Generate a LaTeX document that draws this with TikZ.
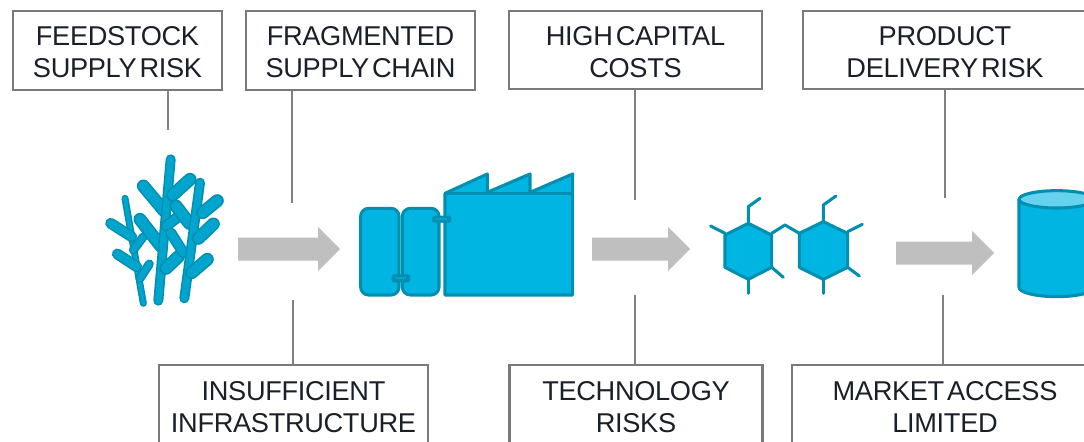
\documentclass[tikz,border=0pt]{standalone}
\usepackage{fontspec}
\setmainfont[WordSpace=0.4,LetterSpace=-1.2]{Liberation Sans}
\definecolor{cy}{HTML}{00B5E2}
\definecolor{cydark}{HTML}{008FB0}
\definecolor{cymid}{HTML}{00A4CC}
\definecolor{cylight}{HTML}{66D3EE}
\definecolor{arrowgray}{HTML}{BFBFBF}
\definecolor{boxline}{HTML}{7A7A7A}
\definecolor{linegray}{HTML}{808080}
\definecolor{txt}{HTML}{1A2029}
\tikzset{
  riskbox/.style={draw=boxline,line width=1.6pt,fill=white,align=center,text=txt,inner sep=0pt,
    font=\fontsize{20.4}{24}\selectfont},
  conn/.style={draw=linegray,line width=1.1pt},
  flowarrow/.style={fill=arrowgray,draw=none},
  part/.style={fill=cy,draw=cydark,line width=2.3pt,line join=round},
  smallpart/.style={fill=cydark,draw=cydark,line width=.5pt,rounded corners=1pt},
  bond/.style={draw=cydark,line width=2.3pt,line cap=round,line join=round},
}
\newcommand{\riskbox}[6]{\node[riskbox,minimum width=#4*0.75pt,minimum height=#5*0.75pt] (#1) at (#2,#3) {\rule{0pt}{17pt}#6};}
% x, y centre, total length
\newcommand{\flowarrow}[3]{\fill[flowarrow] (#1,#2-11.5) -- ++(#3-22,0) -- ++(0,-10.5) -- ++(22,22) -- ++(-22,22) -- ++(0,-10.5) -- ++(-#3+22,0) -- cycle;}
\newcommand{\stalk}[3]{\draw[cydark,line width=#1*0.75pt,line cap=round] #2 -- #3;\draw[cymid,line width=(#1-3)*0.75pt,line cap=round] #2 -- #3;}
\begin{document}
\begin{tikzpicture}[x=0.75pt,y=-0.75pt]
\useasboundingbox (0,0) rectangle (1084,442);
\clip (0,0) rectangle (1084,442);
% boxes
\riskbox{feed}{117.5}{50.5}{209}{79}{FEEDSTOCK\\SUPPLY RISK}
\riskbox{frag}{360.5}{50.5}{229}{79}{FRAGMENTED\\SUPPLY CHAIN}
\riskbox{cap}{635.5}{50}{253}{78}{HIGH CAPITAL\\COSTS}
\riskbox{deliv}{945}{50}{284}{78}{PRODUCT\\DELIVERY RISK}
\riskbox{infra}{293.5}{405}{269}{80}{INSUFFICIENT\\INFRASTRUCTURE}
\riskbox{tech}{636}{405}{253}{80}{TECHNOLOGY\\RISKS}
\riskbox{market}{945}{405}{306}{80}{MARKET ACCESS\\LIMITED}
% connectors
\coordinate (c1) at (168,130);
\coordinate (c2) at (292,203);
\coordinate (c3) at (635,200);
\coordinate (c4) at (945,198);
\coordinate (c5) at (293,300);
\coordinate (c6) at (635,295);
\coordinate (c7) at (943,295);
\draw[conn] (feed.south -| c1) -- (c1);
\draw[conn] (frag.south -| c2) -- (c2);
\draw[conn] (cap.south -| c3) -- (c3);
\draw[conn] (deliv.south -| c4) -- (c4);
\draw[conn] (infra.north -| c5) -- (c5);
\draw[conn] (tech.north -| c6) -- (c6);
\draw[conn] (market.north -| c7) -- (c7);
% arrows
\flowarrow{238}{249}{102}
\flowarrow{592}{249}{98}
\flowarrow{896}{253}{98}
% bamboo
\begin{scope}[shift={(90,140)},x=0.25pt,y=-0.25pt]
\stalk{7}{(105,175)}{(160,490)}
\stalk{11}{(62,250)}{(125,290)}
\stalk{11}{(82,342)}{(140,380)}
\stalk{9}{(160,290)}{(130,330)}
\stalk{9}{(178,372)}{(150,415)}
\stalk{13}{(160,138)}{(222,212)}
\stalk{13}{(150,238)}{(212,318)}
\stalk{10}{(242,58)}{(205,482)}
\stalk{13}{(300,118)}{(248,165)}
\stalk{11}{(272,225)}{(228,258)}
\stalk{13}{(265,350)}{(228,385)}
\stalk{13}{(258,198)}{(298,250)}
\stalk{11}{(242,278)}{(280,338)}
\stalk{10}{(330,128)}{(283,475)}
\stalk{13}{(382,182)}{(338,218)}
\stalk{13}{(370,252)}{(325,295)}
\stalk{13}{(352,358)}{(305,398)}
\end{scope}
% plant
\begin{scope}[shift={(350,160)},x=0.25pt,y=-0.25pt]
\draw[part,rounded corners=6pt] (32,145) rectangle (147,405);
\draw[part,rounded corners=6pt] (157,145) rectangle (267,405);
\draw[part] (285,100) -- (412,42) -- (412,97) -- (540,42) -- (540,97) -- (668,42) -- (668,405) -- (285,405) -- cycle;
\draw[cydark,line width=2.3pt] (285,100) -- (668,100);
\fill[smallpart] (248,168) rectangle (302,187);
\fill[smallpart] (126,344) rectangle (179,366);
\fill[cymid] (258,175) rectangle (292,180);
\fill[cymid] (136,352) rectangle (169,358);
\end{scope}
% molecule
\begin{scope}[shift={(700,180)},x=0.25pt,y=-0.25pt]
\draw[part] (145,130) -- (215,165) -- (215,262) -- (145,298) -- (75,262) -- (75,165) -- cycle;
\draw[part] (370,125) -- (443,160) -- (443,262) -- (370,298) -- (298,262) -- (298,160) -- cycle;
\draw[bond] (145,130) -- (145,80) -- (180,55);
\draw[bond] (75,160) -- (32,138);
\draw[bond] (215,262) -- (250,292);
\draw[bond] (145,298) -- (145,340);
\draw[bond] (215,160) -- (255,135) -- (298,160);
\draw[bond] (370,125) -- (370,75) -- (408,48);
\draw[bond] (443,155) -- (487,133);
\draw[bond] (443,262) -- (478,288);
\draw[bond] (370,298) -- (370,340);
\end{scope}
% cylinder
\begin{scope}[shift={(1000,170)},x=0.25pt,y=-0.25pt]
\draw[part] (57,88) -- (57,352) arc[start angle=180,end angle=360,x radius=113pt*0.25,y radius=28pt*0.25] -- (283,88) -- cycle;
\draw[part,fill=cylight] (170,88) ellipse[x radius=113pt*0.25,y radius=26pt*0.25];
\end{scope}
\end{tikzpicture}
\end{document}
